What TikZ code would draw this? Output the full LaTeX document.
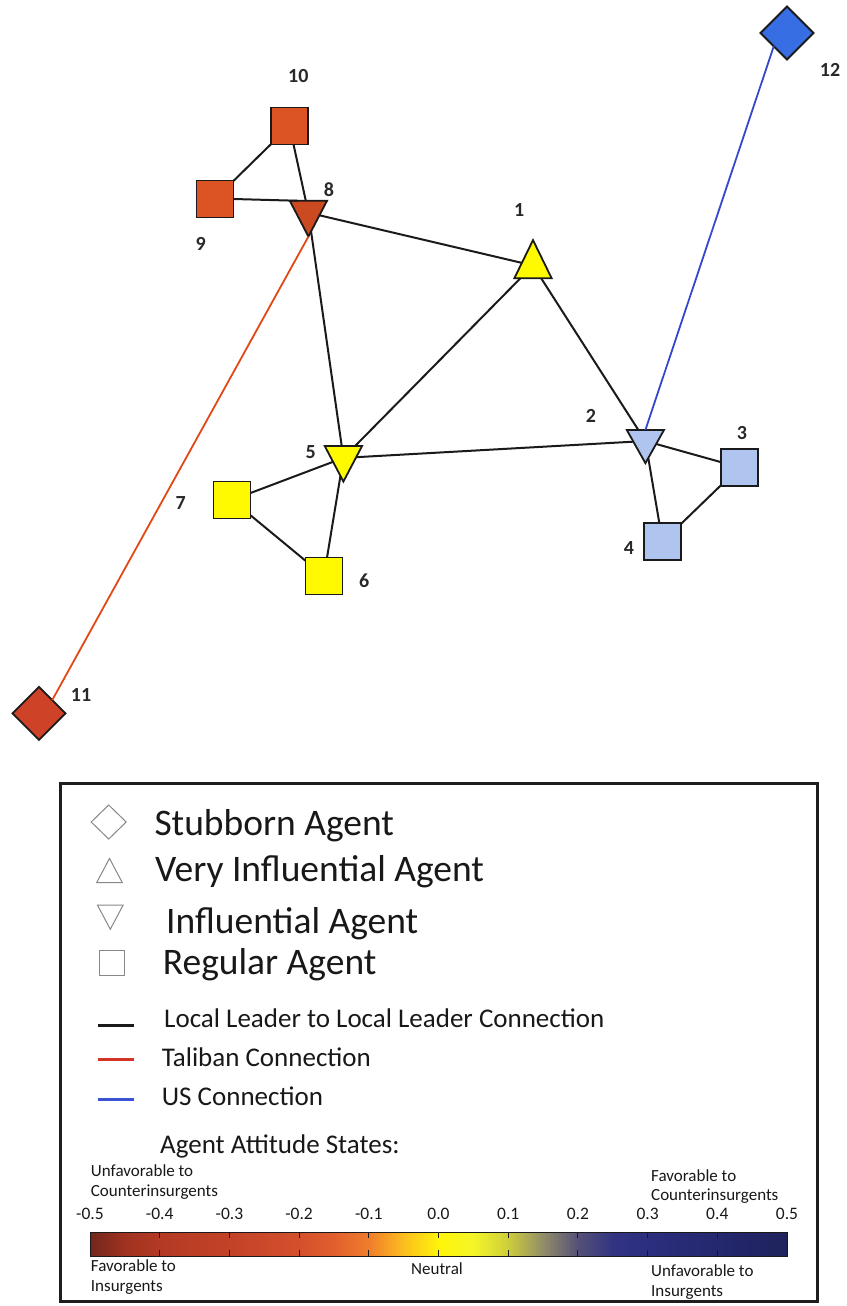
\documentclass[tikz,border=0pt]{standalone}
\usepackage{fontspec}
\setmainfont{Carlito}
\usetikzlibrary{shapes.geometric}
\definecolor{edgeblack}{RGB}{26,26,26}
\definecolor{lblgray}{RGB}{40,40,40}
\definecolor{txtblack}{RGB}{24,24,24}
\definecolor{ora}{RGB}{221,84,36}
\definecolor{ora8}{RGB}{204,74,33}
\definecolor{red11}{RGB}{206,66,40}
\definecolor{yel}{RGB}{255,250,0}
\definecolor{lblue}{RGB}{176,196,240}
\definecolor{blue12}{RGB}{56,110,228}
\definecolor{redline}{RGB}{226,72,20}
\definecolor{blueline}{RGB}{52,72,205}
\definecolor{leggray}{RGB}{135,135,135}
\definecolor{legred}{RGB}{212,52,40}
\definecolor{legblue}{RGB}{58,82,212}
\definecolor{boxline}{RGB}{30,30,30}
\definecolor{cb0}{RGB}{115,38,28}
\definecolor{cb1}{RGB}{160,50,32}
\definecolor{cb2}{RGB}{180,58,36}
\definecolor{cb3}{RGB}{195,66,40}
\definecolor{cb4}{RGB}{212,80,44}
\definecolor{cb4b}{RGB}{225,95,45}
\definecolor{cb5}{RGB}{240,125,45}
\definecolor{cb6}{RGB}{252,190,30}
\definecolor{cb7}{RGB}{255,245,10}
\definecolor{cb8}{RGB}{245,245,40}
\definecolor{cb9}{RGB}{205,205,60}
\definecolor{cb10}{RGB}{145,140,105}
\definecolor{cb11}{RGB}{85,80,120}
\definecolor{cb12}{RGB}{50,52,130}
\definecolor{cb13}{RGB}{42,46,125}
\definecolor{cb14}{RGB}{36,40,110}
\definecolor{cb15}{RGB}{30,34,92}
\begin{document}
\begin{tikzpicture}[x=1pt,y=-1pt,
  agent/.style={draw=edgeblack, line width=1.8pt, inner sep=0pt, outer sep=0pt},
  sq/.style={agent, rectangle, minimum size=37pt},
  dia/.style={agent, diamond, aspect=1, minimum width=53pt, minimum height=53pt},
  uptri/.style={agent, regular polygon, regular polygon sides=3, minimum size=43pt},
  dntri/.style={uptri, shape border rotate=180},
  nlbl/.style={font=\bfseries\fontsize{20}{24}\selectfont, text=lblgray, inner sep=0pt},
  link/.style={draw=edgeblack, line width=2pt},
  legsym/.style={draw=leggray, line width=1pt, inner sep=0pt, outer sep=0pt},
  bigtxt/.style={font=\fontsize{37.5}{44}\selectfont, inner sep=0pt, anchor=base west, text=txtblack},
  midtxt/.style={font=\fontsize{27}{32}\selectfont, inner sep=0pt, anchor=base west, text=txtblack},
  smtxt/.style={font=\fontsize{17}{20}\selectfont, inner sep=0pt, anchor=base west, text=txtblack},
  ticktxt/.style={font=\fontsize{17.5}{21}\selectfont, inner sep=0pt, anchor=base, text=txtblack},
  keyline/.style={line width=3pt}
]
\useasboundingbox (0,0) rectangle (846,1306);

% ---------- network nodes ----------
\node[sq, fill=ora] (n10) at (289.5,126) {};
\node[sq, fill=ora] (n9) at (215,199) {};
\node[dntri, fill=ora8, yscale=1.11] (n8) at (308.4,212.7) {};
\node[uptri, fill=yel, yscale=1.18] (n1) at (533,265.5) {};
\node[dntri, fill=yel, yscale=1.10] (n5) at (343.4,457.9) {};
\node[dntri, fill=lblue, yscale=1.03] (n2) at (645.4,441) {};
\node[sq, fill=lblue] (n3) at (739.5,467.3) {};
\node[sq, fill=lblue] (n4) at (662.5,541.8) {};
\node[sq, fill=yel] (n7) at (232,500) {};
\node[sq, fill=yel] (n6) at (324,576) {};
\node[dia, fill=red11] (n11) at (39,713.3) {};
\node[dia, fill=blue12] (n12) at (787,33) {};

% ---------- connections ----------
\draw[link] (n10) -- (n9);
\draw[link] (n10) -- (n8);
\draw[link] (n9.east) -- (n8.north west);
\draw[link] (n8) -- (n1);
\draw[link] (n8) -- (n5);
\draw[link] (n1) -- (n5);
\draw[link] (n1) -- (n2);
\draw[link] (n5) -- (n2);
\draw[link] (n5) -- (n7);
\draw[link] (n5) -- (n6);
\draw[link] (n7) -- (n6);
\draw[link] (n2) -- (n3);
\draw[link] (n2) -- (n4);
\draw[link] (n3) -- (n4);
\draw[draw=redline, line width=1.8pt] (n8.south) -- (n11.north east);
\draw[draw=blueline, line width=1.8pt] (n12.south west) -- (n2.north);

% ---------- node labels ----------
\node[nlbl] (l10) at (298.3,76) {10};
\node[nlbl] (l9) at (200.7,244.3) {9};
\node[nlbl] (l8) at (329,189.3) {8};
\node[nlbl] (l1) at (519.3,210) {1};
\node[nlbl] (l2) at (591,416) {2};
\node[nlbl] (l3) at (742,432.7) {3};
\node[nlbl] (l4) at (629,548) {4};
\node[nlbl] (l5) at (310.7,451.7) {5};
\node[nlbl] (l6) at (364.3,580.7) {6};
\node[nlbl] (l7) at (180.7,503.3) {7};
\node[nlbl] (l11) at (81,695) {11};
\node[nlbl] (l12) at (830,70) {12};

% ---------- legend ----------
\draw[draw=boxline, line width=3pt] (60.5,783) rectangle (817.5,1301.5);

\node[legsym, diamond, aspect=1, minimum width=35pt, minimum height=34pt] (kdia) at (108.7,822) {};
\node[legsym, regular polygon, regular polygon sides=3, minimum size=29.7pt, yscale=1.09] (ktri) at (109.5,874.6) {};
\node[legsym, regular polygon, regular polygon sides=3, shape border rotate=180, minimum size=29.7pt, yscale=1.09] (kitri) at (110.3,913.1) {};
\node[legsym, rectangle, minimum size=25pt] (ksq) at (112,963) {};

\node[bigtxt] (tstub) at (154.3,835) {Stubborn Agent};
\node[bigtxt] (tvery) at (155,881.7) {Very Influential Agent};
\node[bigtxt] (tinfl) at (166,933.5) {Influential Agent};
\node[bigtxt] (treg) at (162.7,974.3) {Regular Agent};

\coordinate (kb1) at (98.3,1025);  \coordinate (kb2) at (134,1025);
\coordinate (kr1) at (98.3,1059.3); \coordinate (kr2) at (134,1059.3);
\coordinate (ku1) at (98.3,1099.3); \coordinate (ku2) at (134,1099.3);
\draw[keyline, draw=edgeblack] (kb1) -- (kb2);
\draw[keyline, draw=legred] (kr1) -- (kr2);
\draw[keyline, draw=legblue] (ku1) -- (ku2);

\node[midtxt] (tlocal) at (164,1027.3) {Local Leader to Local Leader Connection};
\node[midtxt] (ttal) at (161.7,1066.7) {Taliban Connection};
\node[midtxt] (tus) at (161.7,1105) {US Connection};

\node[midtxt] (tatt) at (160,1153.5) {Agent Attitude States:};

\node[smtxt] (tul1) at (90.7,1176) {Unfavorable to};
\node[smtxt] (tul2) at (90.7,1196) {Counterinsurgents};
\node[smtxt] (tur1) at (651,1181) {Favorable to};
\node[smtxt] (tur2) at (651,1200.5) {Counterinsurgents};

% colour bar
\foreach \xa/\xb/\ca/\cb in {90/124.85/cb0/cb1, 124.85/159.7/cb1/cb2, 159.7/229.4/cb2/cb3,
  229.4/299.1/cb3/cb4, 299.1/333.95/cb4/cb4b, 333.95/368.8/cb4b/cb5, 368.8/403.65/cb5/cb6,
  403.65/438.5/cb6/cb7, 438.5/473.35/cb7/cb8, 473.35/508.2/cb8/cb9, 508.2/543.05/cb9/cb10,
  543.05/577.9/cb10/cb11, 577.9/612.75/cb11/cb12, 612.75/647.6/cb12/cb13,
  647.6/717.3/cb13/cb14, 717.3/787/cb14/cb15}
  \shade[left color=\ca, right color=\cb] (\xa,1232) rectangle ({\xb+0.4},1256);
\foreach \k in {1,...,9} {
  \draw[edgeblack, line width=1pt] ({90+69.7*\k},1232) -- ++(0,6);
  \draw[edgeblack, line width=1pt] ({90+69.7*\k},1256) -- ++(0,-6);
}
\draw[edgeblack, line width=1pt] (90,1232) rectangle (787,1256);

\foreach \v [count=\i from 0] in {-0.5,-0.4,-0.3,-0.2,-0.1,0.0,0.1,0.2,0.3,0.4,0.5}
  \node[ticktxt] (tick\i) at ({90+69.7*\i},1219.5) {\v};

\node[smtxt] (tbl1) at (90.7,1271.7) {Favorable to};
\node[smtxt] (tbl2) at (90.7,1291) {Insurgents};
\node[smtxt, anchor=base] (tneu) at (437,1274.5) {Neutral};
\node[smtxt] (tbr1) at (651,1276.5) {Unfavorable to};
\node[smtxt] (tbr2) at (651,1296) {Insurgents};
\end{tikzpicture}
\end{document}
